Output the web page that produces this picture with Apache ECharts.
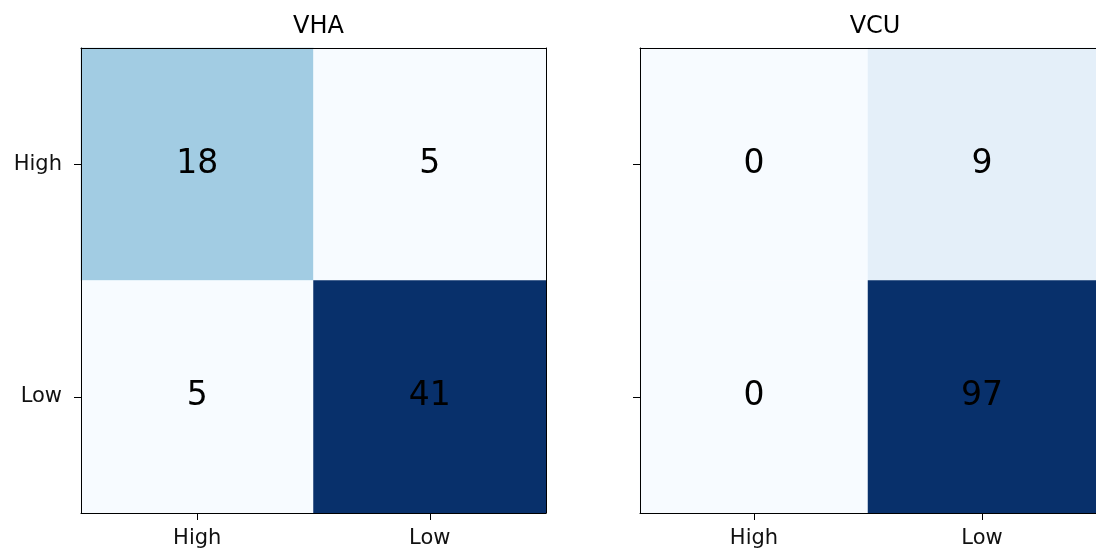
<!DOCTYPE html>
<html>
<head>
<meta charset="utf-8">
<script src="https://cdn.jsdelivr.net/npm/echarts@6/dist/echarts.min.js"></script>
<style>html,body{margin:0;padding:0;background:#fff}#c{width:1096px;height:554px}</style>
</head>
<body>
<div id="c"></div>
<script>
const xCategories = ['High', 'Low'];
const yCategories = ['High', 'Low'];
const titles = ['VHA', 'VCU'];
// [xIndex, yIndex, value]
const vhaValues = [[0, 0, 18], [1, 0, 5], [0, 1, 5], [1, 1, 41]];
const vcuValues = [[0, 0, 0], [1, 0, 9], [0, 1, 0], [1, 1, 97]];
const blues = ['#f7fbff', '#deebf7', '#c6dbef', '#9ecae1', '#6baed6', '#4292c6', '#2171b5', '#08519c', '#08306b'];

const FONT = 'DejaVu Sans';
const grids = [
  { left: 81, top: 48, width: 465, height: 465 },
  { left: 640, top: 48, width: 460, height: 465 }
];
const lineStyle = { color: '#000', width: 1 };

function range(arr) {
  const v = arr.map(d => d[2]);
  return [Math.min(...v), Math.max(...v)];
}
const datasets = [vhaValues, vcuValues];

const xAxes = [], yAxes = [], series = [], visualMaps = [], titleOpts = [];
datasets.forEach((data, i) => {
  xAxes.push({
    type: 'category', data: xCategories, gridIndex: i, position: 'bottom', z: 5,
    axisLine: { show: true, lineStyle },
    axisTick: { show: true, alignWithLabel: true, length: 7, lineStyle },
    axisLabel: { fontFamily: FONT, fontSize: 21, color: '#111', margin: 15 },
    splitLine: { show: false }
  });
  xAxes.push({
    type: 'category', data: xCategories, gridIndex: i, position: 'top', z: 5,
    axisLine: { show: true, lineStyle }, axisTick: { show: false }, axisLabel: { show: false }
  });
  yAxes.push({
    type: 'category', data: yCategories, gridIndex: i, inverse: true, position: 'left', z: 5,
    axisLine: { show: true, lineStyle },
    axisTick: { show: true, alignWithLabel: true, length: 7, lineStyle },
    axisLabel: { show: i === 0, fontFamily: FONT, fontSize: 21, color: '#111', margin: 19 },
    splitLine: { show: false }
  });
  yAxes.push({
    type: 'category', data: yCategories, gridIndex: i, inverse: true, position: 'right', z: 5,
    axisLine: { show: true, lineStyle }, axisTick: { show: false }, axisLabel: { show: false }
  });
  series.push({
    type: 'heatmap', xAxisIndex: i * 2, yAxisIndex: i * 2, data: data,
    label: { show: true, fontFamily: FONT, fontSize: 33, color: '#000' },
    itemStyle: { borderWidth: 0 },
    emphasis: { disabled: true }
  });
  const [mn, mx] = range(data);
  visualMaps.push({ show: false, seriesIndex: i, dimension: 2, min: mn, max: mx, inRange: { color: blues } });
  titleOpts.push({
    text: titles[i], left: grids[i].left + grids[i].width / 2, top: 10, textAlign: 'center',
    textStyle: { fontFamily: FONT, fontSize: 24, fontWeight: 'normal', color: '#000' }
  });
});

const chart = echarts.init(document.getElementById('c'), null, { renderer: 'canvas' });
chart.setOption({
  animation: false,
  backgroundColor: '#fff',
  title: titleOpts,
  grid: grids,
  xAxis: xAxes,
  yAxis: yAxes,
  visualMap: visualMaps,
  series: series
});
</script>
</body>
</html>
